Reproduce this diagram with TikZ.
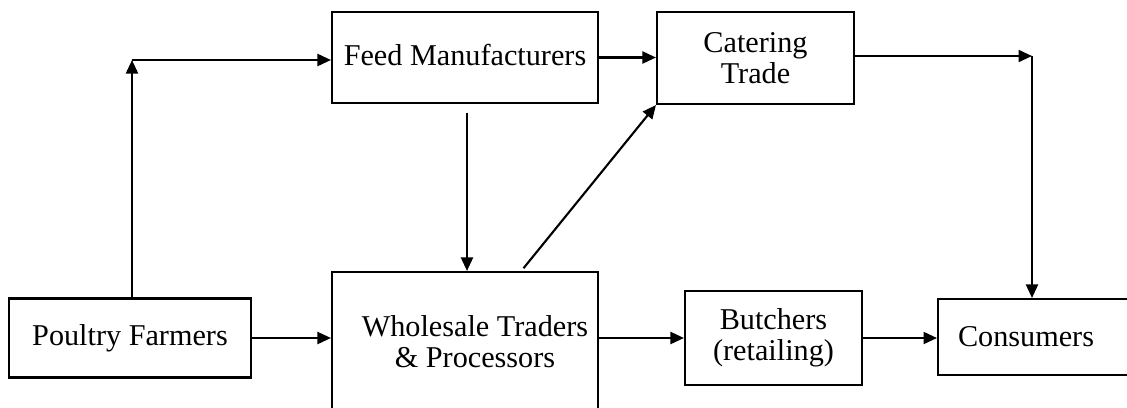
\documentclass[tikz,border=0pt]{standalone}
\usepackage{fontspec}
\setmainfont{Liberation Serif}
\usepackage{tikz}
\usetikzlibrary{arrows.meta,calc}
\tikzset{
  box/.style={draw, line width=1.2pt, align=center, inner sep=0pt,
              font=\fontsize{17.2}{17.5}\selectfont},
  arr/.style={-{Triangle[length=0.27cm,width=0.24cm]}, line width=1.2pt}
}

\begin{document}
\begin{tikzpicture}[x=0.02cm, y=-0.02cm]
\useasboundingbox (0,0) rectangle (1127,407);
\begin{scope}
\clip (0,0) rectangle (1127,407);
% top row
\node[box, minimum width=5.32cm, minimum height=1.82cm] (feed) at (465,57.5) {\raisebox{3pt}{Feed Manufacturers}};
\node[box, minimum width=3.94cm, minimum height=1.84cm] (catering) at (755.5,58) {Catering\\Trade};
% bottom row
\node[box, minimum width=4.84cm, minimum height=1.58cm] (poultry) at (130,338) {Poultry Farmers};
\node[box, minimum width=5.32cm, minimum height=2.8cm] (wholesale) at (465,342) {\hspace*{0.4cm}Wholesale Traders\\\hspace*{0.4cm}\& Processors};
\node[box, minimum width=3.54cm, minimum height=1.88cm] (butchers) at (773.5,338) {Butchers\\(retailing)};
\node[box, anchor=west, text width=4cm, align=left, inner xsep=0.4cm, minimum height=1.52cm] (consumers) at (937,337) {Consumers};
\end{scope}

\coordinate (up) at (132,60);
\coordinate (turn) at (1032,56);

\draw[arr] (poultry.north -| up) -- (up);
\draw[arr] (up) -- (feed.west |- up);
\draw[arr, shorten <=5pt] (feed.south -| 467,0) -- (wholesale.north -| 467,0);
\draw[arr, shorten <=2pt] ($(wholesale.north west)!0.71!(wholesale.north east)$) -- (catering.south west);
\draw[arr] (feed.east) -- (catering.west |- feed.east);
\draw[arr] (catering.east |- turn) -- (turn);
\draw[arr] (turn) -- (turn |- consumers.north);
\draw[arr] (poultry.east) -- (wholesale.west |- poultry.east);
\draw[arr] (wholesale.east |- butchers.west) -- (butchers.west);
\draw[arr] (butchers.east) -- (consumers.west |- butchers.east);
\end{tikzpicture}
\end{document}
